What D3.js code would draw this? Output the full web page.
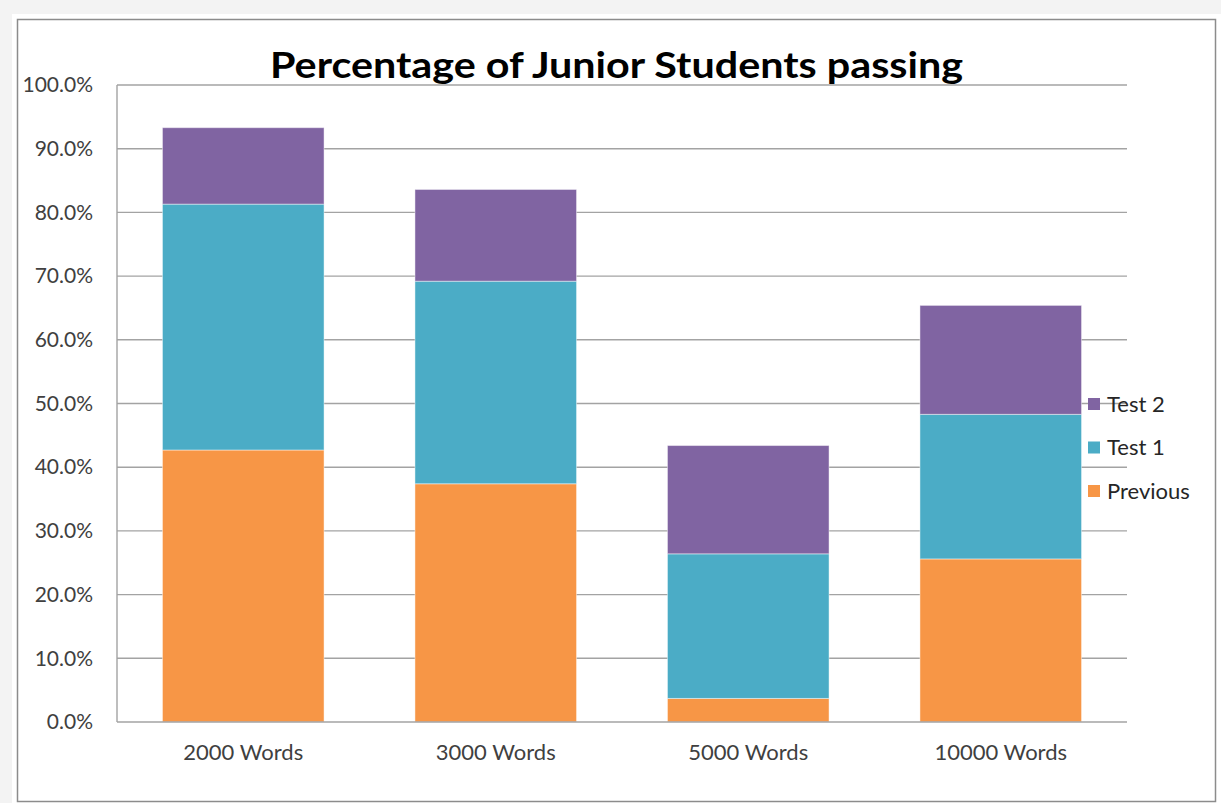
<!DOCTYPE html>
<html>
<head>
<meta charset="utf-8">
<script src="https://cdn.jsdelivr.net/npm/d3@7"></script>
<style>
  html, body { margin: 0; padding: 0; background: #f3f3f3; }
  svg { display: block; }
  text { font-family: Lato, "Noto Sans", sans-serif; fill: #404040; }
</style>
</head>
<body>
<svg id="chart" width="1221" height="803"></svg>
<script>
// Categories and stacked series (percent passing)
const categories = ["2000 Words", "3000 Words", "5000 Words", "10000 Words"];
const seriesNames = ["Previous", "Test 1", "Test 2"];
const previous = [42.7, 37.4, 3.7, 25.6];
const test1 = [38.6, 31.8, 22.7, 22.7];
const test2 = [12.0, 14.4, 17.0, 17.1];
const yTicks = [0, 10, 20, 30, 40, 50, 60, 70, 80, 90, 100];
const colors = ["#F79646", "#4BACC6", "#8064A2"];
const chartTitle = "Percentage of Junior Students passing";

const rows = categories.map((c, i) => ({
  category: c,
  "Previous": previous[i],
  "Test 1": test1[i],
  "Test 2": test2[i]
}));

const svg = d3.select("#chart");
const W = 1221, H = 803;
const labelFont = "Lato, 'Noto Sans', sans-serif";

// page and chart frame
svg.append("rect").attr("x", 12).attr("y", 14).attr("width", W - 12).attr("height", H - 14).attr("fill", "#fff");
svg.append("rect").attr("x", 17.5).attr("y", 19.5).attr("width", 1198).attr("height", 782)
  .attr("fill", "#fff").attr("stroke", "#8c8c8c").attr("stroke-width", 1.5);

const plot = { left: 117, right: 1127, top: 85, bottom: 722 };

const x = d3.scaleBand()
  .domain(categories)
  .range([plot.left, plot.right])
  .paddingInner(0.36)
  .paddingOuter(0.18);

const y = d3.scaleLinear().domain([0, 100]).range([plot.bottom, plot.top]);

// gridlines
svg.append("g")
  .selectAll("line")
  .data(yTicks.filter(t => t > 0))
  .join("line")
  .attr("x1", plot.left).attr("x2", plot.right)
  .attr("y1", d => y(d)).attr("y2", d => y(d))
  .attr("stroke", "#a3a3a3").attr("stroke-width", 1.4);

// stacked bars
const stack = d3.stack().keys(seriesNames);
const stacked = stack(rows);

svg.append("g")
  .selectAll("g")
  .data(stacked)
  .join("g")
  .attr("fill", (d, i) => colors[i])
  .selectAll("rect")
  .data(d => d)
  .join("rect")
  .attr("x", d => x(d.data.category))
  .attr("width", x.bandwidth())
  .attr("y", d => y(d[1]))
  .attr("height", d => y(d[0]) - y(d[1]))
  .attr("stroke", "rgba(255,255,255,0.45)")
  .attr("stroke-width", 1);

// axis lines
svg.append("line").attr("x1", plot.left).attr("x2", plot.left)
  .attr("y1", plot.top).attr("y2", plot.bottom)
  .attr("stroke", "#a3a3a3").attr("stroke-width", 1.4);
svg.append("line").attr("x1", plot.left).attr("x2", plot.right)
  .attr("y1", plot.bottom).attr("y2", plot.bottom)
  .attr("stroke", "#a3a3a3").attr("stroke-width", 1.4);

// y tick labels
const yAxis = d3.axisLeft(y).tickValues(yTicks).tickSize(0).tickPadding(24)
  .tickFormat(d => d.toFixed(1) + "%");
const gy = svg.append("g").attr("transform", `translate(${plot.left},0)`).call(yAxis);
gy.select(".domain").remove();
gy.selectAll("text").attr("font-size", 21).attr("fill", "#404040")
  .attr("font-family", labelFont);

// x tick labels
const xAxis = d3.axisBottom(x).tickSize(0).tickPadding(22);
const gx = svg.append("g").attr("transform", `translate(0,${plot.bottom})`).call(xAxis);
gx.select(".domain").remove();
gx.selectAll("text").attr("font-size", 22).attr("fill", "#404040")
  .attr("font-family", labelFont);

// title
svg.append("text")
  .attr("x", 616.5).attr("y", 78)
  .attr("text-anchor", "middle")
  .attr("font-size", 36).attr("font-weight", "bold")
  .attr("textLength", 693).attr("lengthAdjust", "spacingAndGlyphs")
  .style("fill", "#000")
  .text(chartTitle);

// legend (top entry is the top of the stack)
const legendItems = seriesNames.map((n, i) => ({ name: n, color: colors[i] })).reverse();
const legend = svg.append("g").attr("transform", "translate(1088,404)");
const li = legend.selectAll("g").data(legendItems).join("g")
  .attr("transform", (d, i) => `translate(0,${i * 43.5})`);
li.append("rect").attr("x", 0).attr("y", -6).attr("width", 12).attr("height", 12)
  .attr("fill", d => d.color);
li.append("text").attr("x", 19).attr("y", 0).attr("dy", "0.35em")
  .attr("font-size", 22).style("fill", "#262626").text(d => d.name);
</script>
</body>
</html>
